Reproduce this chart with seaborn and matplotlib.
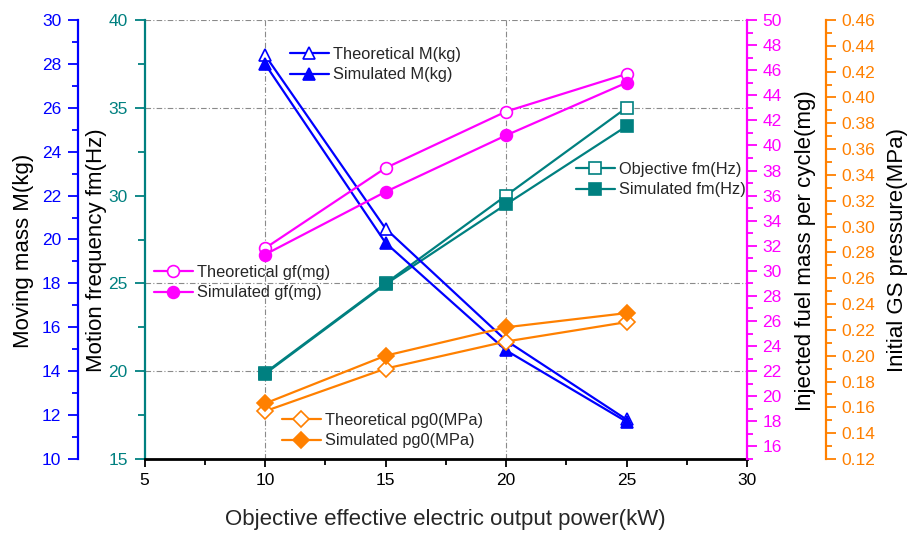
import matplotlib
matplotlib.use("Agg")
import matplotlib.pyplot as plt
from matplotlib.ticker import MultipleLocator, FormatStrFormatter
import seaborn as sns

# Objective effective electric output power (kW)
power = [10, 15, 20, 25]

# Moving mass M (kg)
M_theo = [28.4, 20.5, 15.4, 11.8]
M_sim = [28.0, 19.85, 14.95, 11.7]

# Motion frequency fm (Hz)
fm_obj = [19.9, 25.0, 30.0, 35.0]
fm_sim = [19.85, 24.95, 29.5, 33.95]

# Injected fuel mass per cycle gf (mg)
gf_theo = [31.8, 38.2, 42.7, 45.7]
gf_sim = [31.3, 36.3, 40.8, 45.0]

# Initial GS pressure pg0 (MPa)
pg_theo = [0.157, 0.190, 0.211, 0.226]
pg_sim = [0.163, 0.200, 0.222, 0.233]

# reference lines
grid_x = [10, 20]
grid_fm = [20, 25, 35, 40]

BLUE = "#0000FF"
TEAL = "#008080"
MAGENTA = "#FF00FF"
ORANGE = "#FF8000"

sns.set_style("white")
plt.rcParams["font.family"] = ["Liberation Sans", "DejaVu Sans"]

PX = 72 / 100  # points per pixel at 100 dpi

fig = plt.figure(figsize=(9.1, 5.33), dpi=100)
ax = fig.add_axes([144.5 / 910, 1 - 459 / 533, 602.5 / 910, 439 / 533])
axM = ax.twinx()
axG = ax.twinx()
axP = ax.twinx()

for a in (ax, axM, axG, axP):
    a.set_facecolor("none")
    for s in a.spines.values():
        s.set_visible(False)
        s.set_linewidth(1.6)
fig.patch.set_facecolor("white")

# dashed reference grid
for gx in grid_x:
    ax.axvline(gx, color="#8a8a8a", lw=0.8, ls=(0, (5, 2, 1, 2)), zorder=0)
for gy in grid_fm:
    ax.axhline(gy, color="#8a8a8a", lw=0.8, ls=(0, (5, 2, 1, 2)), zorder=0)

LW = 1.6
MS = 8.5
TICK_FS = 12.5
LABEL_FS = 16
LEG_FS = 11.8


def series(axis, y, color, marker, filled, label):
    sns.lineplot(x=power, y=y, ax=axis, color=color, marker=marker,
                 markersize=MS, markeredgecolor=color, markeredgewidth=1.2,
                 markerfacecolor=color if filled else "white",
                 lw=LW, label=label, legend=False)
    return axis.lines[-1]


h_fm1 = series(ax, fm_obj, TEAL, "s", False, "Objective fm(Hz)")
h_fm2 = series(ax, fm_sim, TEAL, "s", True, "Simulated fm(Hz)")
h_M1 = series(axM, M_theo, BLUE, "^", False, "Theoretical M(kg)")
h_M2 = series(axM, M_sim, BLUE, "^", True, "Simulated M(kg)")
h_g1 = series(axG, gf_theo, MAGENTA, "o", False, "Theoretical gf(mg)")
h_g2 = series(axG, gf_sim, MAGENTA, "o", True, "Simulated gf(mg)")
h_p1 = series(axP, pg_theo, ORANGE, "D", False, "Theoretical pg0(MPa)")
h_p2 = series(axP, pg_sim, ORANGE, "D", True, "Simulated pg0(MPa)")
for h in (h_p1, h_p2):
    h.set_markersize(8)

# x axis
ax.set_xlim(5, 30)
ax.xaxis.set_major_locator(MultipleLocator(5))
ax.xaxis.set_minor_locator(MultipleLocator(2.5))
ax.spines["bottom"].set_visible(True)
ax.spines["bottom"].set_color("black")
ax.spines["bottom"].set_linewidth(2.0)
ax.tick_params(axis="x", which="both", direction="out", bottom=True, top=False,
               colors="black", labelsize=TICK_FS, width=1.3, pad=4)
ax.tick_params(axis="x", which="major", length=6)
ax.tick_params(axis="x", which="minor", length=4)
ax.set_xlabel("Objective effective electric output power(kW)", fontsize=LABEL_FS)
ax.xaxis.set_label_coords(0.5, -0.137)
ax.xaxis.label.set_va("center")

# motion frequency axis (left, inner)
ax.set_ylim(15, 40)
ax.yaxis.set_major_locator(MultipleLocator(5))
ax.yaxis.set_minor_locator(MultipleLocator(2.5))
ax.spines["left"].set_visible(True)
ax.spines["left"].set_color(TEAL)
ax.tick_params(axis="y", which="both", direction="out", left=True, right=False,
               color=TEAL, labelcolor=TEAL, labelsize=TICK_FS, width=1.3, pad=5)
ax.tick_params(axis="y", which="major", length=7)
ax.tick_params(axis="y", which="minor", length=5)
ax.set_ylabel("Motion frequency fm(Hz)", fontsize=LABEL_FS, color="black")
ax.yaxis.set_label_coords(-0.079, 0.475)
ax.yaxis.label.set_va("center")

# moving mass axis (left, outer)
axM.set_ylim(10, 30)
axM.yaxis.set_label_position("left")
axM.yaxis.set_ticks_position("left")
axM.spines["left"].set_visible(True)
axM.spines["left"].set_position(("outward", 66.5 * PX))
axM.spines["left"].set_color(BLUE)
axM.yaxis.set_major_locator(MultipleLocator(2))
axM.yaxis.set_minor_locator(MultipleLocator(1))
axM.tick_params(axis="y", which="both", direction="out", left=True, right=False,
                color=BLUE, labelcolor=BLUE, labelsize=TICK_FS, width=1.3, pad=5)
axM.tick_params(axis="y", which="major", length=7)
axM.tick_params(axis="y", which="minor", length=4)
axM.set_ylabel("Moving mass M(kg)", fontsize=LABEL_FS, color="black")
axM.yaxis.set_label_coords(-0.201, 0.475)
axM.yaxis.label.set_va("center")

# injected fuel mass axis (right, inner)
axG.set_ylim(15, 50)
axG.spines["right"].set_visible(True)
axG.spines["right"].set_color(MAGENTA)
axG.yaxis.set_major_locator(MultipleLocator(2))
axG.yaxis.set_minor_locator(MultipleLocator(1))
axG.tick_params(axis="y", which="both", direction="out", right=True, left=False,
                color=MAGENTA, labelcolor=MAGENTA, labelsize=TICK_FS, width=1.3, pad=4)
axG.tick_params(axis="y", which="major", length=7)
axG.tick_params(axis="y", which="minor", length=4)
axG.set_ylabel("Injected fuel mass per cycle(mg)", fontsize=LABEL_FS, color="black")
axG.yaxis.set_label_coords(1.097, 0.475)
axG.yaxis.label.set_va("center")

# initial GS pressure axis (right, outer)
axP.set_ylim(0.12, 0.46)
axP.spines["right"].set_visible(True)
axP.spines["right"].set_position(("outward", 79 * PX))
axP.spines["right"].set_color(ORANGE)
axP.yaxis.set_major_locator(MultipleLocator(0.02))
axP.yaxis.set_minor_locator(MultipleLocator(0.01))
axP.yaxis.set_major_formatter(FormatStrFormatter("%.2f"))
axP.tick_params(axis="y", which="both", direction="out", right=True, left=False,
                color=ORANGE, labelcolor=ORANGE, labelsize=TICK_FS, width=1.3, pad=4)
axP.tick_params(axis="y", which="major", length=7)
axP.tick_params(axis="y", which="minor", length=4)
axP.set_ylabel("Initial GS pressure(MPa)", fontsize=LABEL_FS, color="black")
axP.yaxis.set_label_coords(1.249, 0.475)
axP.yaxis.label.set_va("center")

for a in (ax, axM, axG, axP):
    a.grid(False)

leg_kw = dict(loc="upper left", frameon=False, fontsize=LEG_FS, handlelength=2.35,
              handletextpad=0.3, labelspacing=0.33, borderpad=0, borderaxespad=0,
              bbox_transform=fig.transFigure)

axM.legend(handles=[h_M1, h_M2], labels=["Theoretical M(kg)", "Simulated M(kg)"],
           bbox_to_anchor=(290 / 910, 1 - 47 / 533), **leg_kw)
axG.legend(handles=[h_g1, h_g2], labels=["Theoretical gf(mg)", "Simulated gf(mg)"],
           bbox_to_anchor=(154 / 910, 1 - 265 / 533), **leg_kw)
p_leg = axP.legend(handles=[h_p1, h_p2],
                   labels=["Theoretical pg0(MPa)", "Simulated pg0(MPa)"],
                   bbox_to_anchor=(282 / 910, 1 - 413 / 533), **leg_kw)
axP.add_artist(p_leg)
axP.legend(handles=[h_fm1, h_fm2], labels=["Objective fm(Hz)", "Simulated fm(Hz)"],
           bbox_to_anchor=(576 / 910, 1 - 162 / 533), **leg_kw)

fig.savefig("out.png", dpi=100)
